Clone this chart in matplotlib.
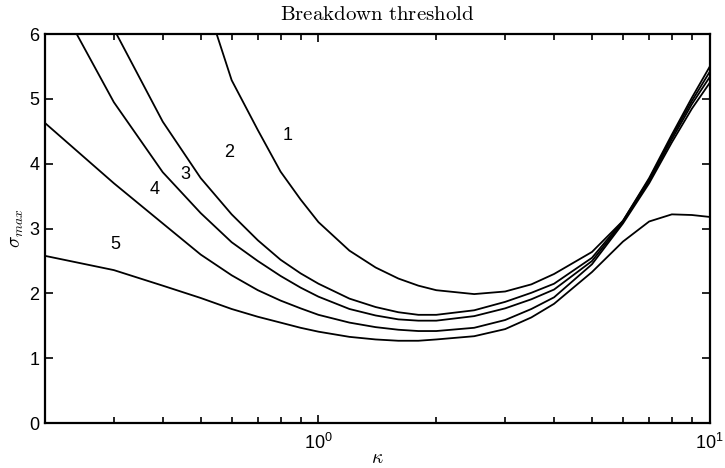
import matplotlib
matplotlib.use('Agg')
import matplotlib.pyplot as plt
from matplotlib.ticker import FixedLocator, LogLocator, NullFormatter

# Valores de kappa en los que se evaluaron las curvas
kappa = [0.2, 0.3, 0.4, 0.5, 0.6, 0.7, 0.8, 0.9, 1.0, 1.2, 1.4, 1.6,
         1.8, 2.0, 2.5, 3.0, 3.5, 4.0, 5.0, 6.0, 7.0, 8.0, 9.0, 10.0]

# sigma_max para cada curva
curva_1 = [14.0, 11.0, 8.8, 6.76, 5.29, 4.52, 3.88, 3.45, 3.10, 2.66, 2.40, 2.23,
           2.12, 2.05, 1.99, 2.03, 2.14, 2.30, 2.64, 3.12, 3.78, 4.45, 5.02, 5.50]
curva_2 = [8.0, 6.08, 4.65, 3.78, 3.22, 2.82, 2.52, 2.31, 2.15, 1.92, 1.79, 1.71,
           1.67, 1.67, 1.74, 1.87, 2.01, 2.15, 2.55, 3.12, 3.76, 4.42, 4.97, 5.42]
curva_3 = [6.9, 4.95, 3.87, 3.24, 2.79, 2.50, 2.27, 2.09, 1.95, 1.76, 1.66, 1.60,
           1.58, 1.58, 1.65, 1.77, 1.91, 2.06, 2.50, 3.10, 3.73, 4.38, 4.92, 5.34]
curva_4 = [4.63, 3.70, 3.08, 2.60, 2.28, 2.05, 1.89, 1.77, 1.67, 1.55, 1.48, 1.44,
           1.42, 1.42, 1.47, 1.59, 1.76, 1.94, 2.45, 3.08, 3.70, 4.33, 4.85, 5.25]
curva_5 = [2.58, 2.36, 2.12, 1.93, 1.76, 1.64, 1.55, 1.47, 1.41, 1.33, 1.29, 1.27,
           1.27, 1.29, 1.34, 1.45, 1.63, 1.84, 2.33, 2.80, 3.11, 3.22, 3.21, 3.18]

etiquetas = ['1', '2', '3', '4', '5']
# posicion de cada etiqueta (kappa, sigma)
etiqueta_x = [0.836, 0.59, 0.458, 0.382, 0.302]
etiqueta_y = [4.43, 4.18, 3.84, 3.60, 2.75]


def graficar():
    plt.rcParams['mathtext.fontset'] = 'cm'
    plt.rcParams['font.family'] = ['Liberation Sans', 'DejaVu Sans']

    fig = plt.figure(figsize=(7.25, 4.68), dpi=100)
    ax = fig.add_axes([0.062, 0.096, 0.917, 0.831])

    for curva in [curva_1, curva_2, curva_3, curva_4, curva_5]:
        ax.plot(kappa, curva, color='black', linewidth=1.3)

    for texto, x, y in zip(etiquetas, etiqueta_x, etiqueta_y):
        ax.text(x, y, texto, fontsize=13, ha='center', va='center')

    ax.set_xscale('log')
    ax.set_xlim(0.2, 10)
    ax.set_ylim(0, 6)

    ax.xaxis.set_major_locator(FixedLocator([1, 10]))
    ax.set_xticklabels([r'$\mathregular{10^{0}}$', r'$\mathregular{10^{1}}$'])
    ax.xaxis.set_minor_locator(LogLocator(base=10, subs=range(2, 10)))
    ax.xaxis.set_minor_formatter(NullFormatter())
    ax.set_yticks(range(0, 7))

    ax.tick_params(which='both', direction='in', top=True, right=True,
                   labelsize=13, width=1.2)
    ax.tick_params(axis='x', pad=7)
    ax.tick_params(axis='y', pad=4)
    ax.tick_params(which='major', length=6)
    ax.tick_params(which='minor', length=4)
    for lado in ax.spines.values():
        lado.set_linewidth(1.6)

    ax.set_title(r'$\mathrm{Breakdown\ threshold}$', fontsize=15, pad=10)
    ax.set_xlabel(r'$\kappa$', fontsize=14, labelpad=-2)
    ax.set_ylabel(r'$\sigma_{max}$', fontsize=14, labelpad=2)

    fig.savefig('out.png', dpi=100)


def main():
    graficar()


if __name__ == "__main__":
    main()
